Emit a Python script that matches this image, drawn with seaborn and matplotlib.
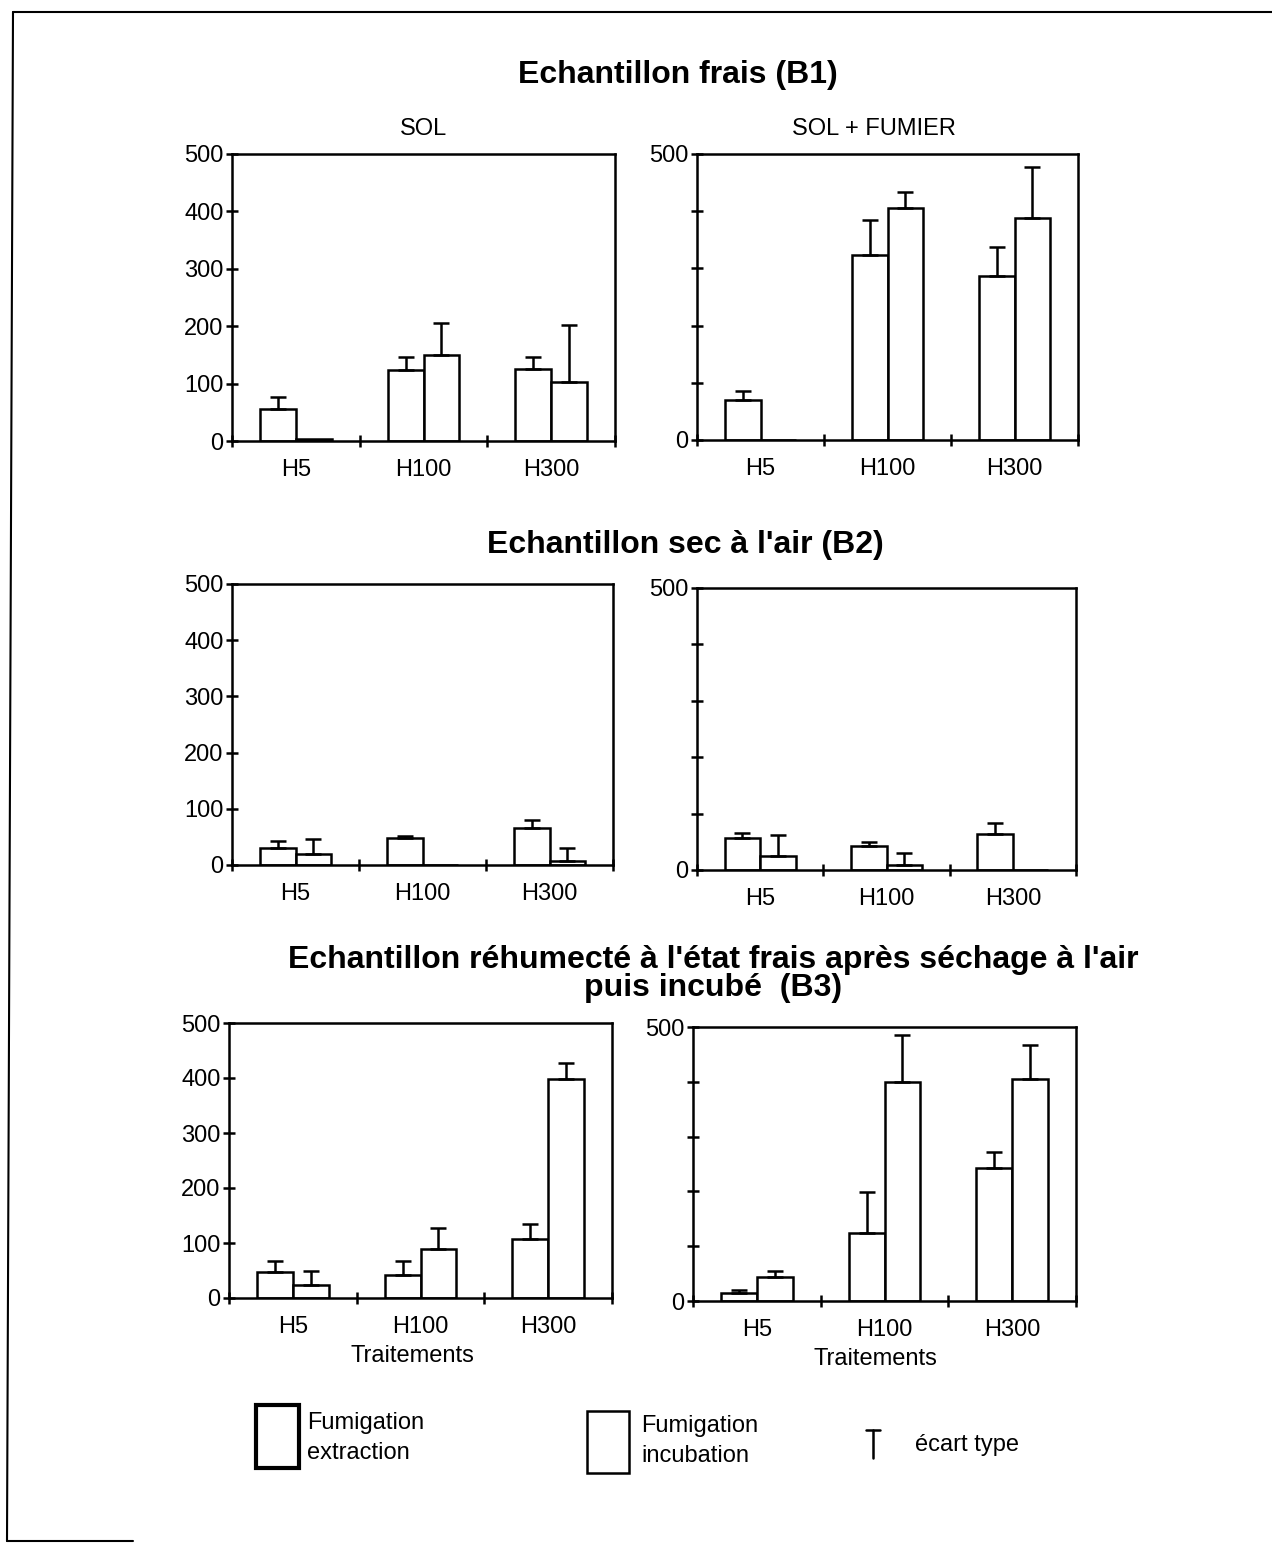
import matplotlib
matplotlib.use('Agg')

from matplotlib import pyplot as plt
from matplotlib.lines import Line2D
from matplotlib.patches import Rectangle

import seaborn as sns
import pandas as pd

traitements = ['H5', 'H100', 'H300']
methodes = ['Fumigation extraction', 'Fumigation incubation']

# B1 - echantillon frais
b1_sol_fe = [55, 123, 126]
b1_sol_fe_err = [22, 23, 20]
b1_sol_fi = [3, 149, 103]
b1_sol_fi_err = [0, 57, 99]
b1_fum_fe = [70, 323, 286]
b1_fum_fe_err = [15, 62, 51]
b1_fum_fi = [0, 406, 388]
b1_fum_fi_err = [0, 27, 90]

# B2 - echantillon sec a l'air
b2_sol_fe = [30, 48, 65]
b2_sol_fe_err = [13, 4, 15]
b2_sol_fi = [20, 0, 8]
b2_sol_fi_err = [26, 0, 23]
b2_fum_fe = [56, 42, 64]
b2_fum_fe_err = [10, 8, 19]
b2_fum_fi = [24, 8, 0]
b2_fum_fi_err = [38, 23, 0]

# B3 - rehumecte puis incube
b3_sol_fe = [47, 41, 107]
b3_sol_fe_err = [20, 26, 27]
b3_sol_fi = [23, 89, 398]
b3_sol_fi_err = [26, 39, 30]
b3_fum_fe = [15, 124, 243]
b3_fum_fe_err = [5, 75, 28]
b3_fum_fi = [44, 399, 406]
b3_fum_fi_err = [11, 86, 62]

W, H = 1272, 1543
FS = 17

sns.set_theme(style='ticks')
plt.rcParams['font.family'] = ['Liberation Sans', 'DejaVu Sans']
plt.rcParams['text.color'] = 'black'
plt.rcParams['axes.labelcolor'] = 'black'
plt.rcParams['xtick.color'] = 'black'
plt.rcParams['ytick.color'] = 'black'


def panel(ax, fe, fi, fe_err, fi_err, right=False, xlabel=''):
    df = pd.DataFrame({
        'Traitement': traitements * 2,
        'Methode': [methodes[0]] * 3 + [methodes[1]] * 3,
        'valeur': fe + fi,
    })
    sns.barplot(data=df, x='Traitement', y='valeur', hue='Methode',
                order=traitements, hue_order=methodes,
                palette=['white', 'white'], saturation=1,
                edgecolor='black', linewidth=1.8, width=0.56, gap=0,
                errorbar=None, legend=False, ax=ax)

    # one-sided standard deviation, up only
    errs = [fe_err, fi_err]
    for bar in ax.patches:
        xc = bar.get_x() + bar.get_width() / 2
        i = int(round(xc))
        m = 0 if xc < i else 1
        e = errs[m][i]
        if e > 0:
            ax.errorbar(xc, bar.get_height(), yerr=[[0], [e]], fmt='none',
                        ecolor='black', elinewidth=1.8, capsize=6, capthick=1.8)

    ax.set_xlim(-0.5, 2.5)
    ax.set_ylim(0, 500)
    ax.set_xticks([0, 1, 2])
    ax.set_xticklabels(traitements)
    ax.set_xticks([-0.5, 0.5, 1.5, 2.5], minor=True)
    ax.tick_params(axis='x', which='major', length=0, pad=13, labelsize=FS)
    ax.tick_params(axis='x', which='minor', length=8, width=1.8, direction='inout')
    ax.set_yticks(range(0, 501, 100))
    if right:
        ax.set_yticklabels(['0', '', '', '', '', '500'])
    ax.tick_params(axis='y', length=8, width=1.8, direction='inout', pad=2, labelsize=FS)
    for s in ax.spines.values():
        s.set_visible(True)
        s.set_linewidth(1.8)
        s.set_color('black')
    ax.set_ylabel('')
    ax.set_xlabel(xlabel, fontsize=FS, labelpad=4)


fig = plt.figure(figsize=(W / 100, H / 100), dpi=100)
fig.patch.set_facecolor('white')


def axes_px(x0, y0, x1, y1):
    return fig.add_axes([x0 / W, 1 - y1 / H, (x1 - x0) / W, (y1 - y0) / H])


ax1 = axes_px(232, 154, 615, 441)
ax2 = axes_px(697, 154, 1078, 440)
ax3 = axes_px(232, 584, 613, 865)
ax4 = axes_px(697, 588, 1076, 870)
ax5 = axes_px(229, 1023, 612, 1298)
ax6 = axes_px(693, 1027, 1076, 1301)

panel(ax1, b1_sol_fe, b1_sol_fi, b1_sol_fe_err, b1_sol_fi_err)
panel(ax2, b1_fum_fe, b1_fum_fi, b1_fum_fe_err, b1_fum_fi_err, right=True)
panel(ax3, b2_sol_fe, b2_sol_fi, b2_sol_fe_err, b2_sol_fi_err)
panel(ax4, b2_fum_fe, b2_fum_fi, b2_fum_fe_err, b2_fum_fi_err, right=True)
panel(ax5, b3_sol_fe, b3_sol_fi, b3_sol_fe_err, b3_sol_fi_err, xlabel='Traitements')
panel(ax6, b3_fum_fe, b3_fum_fi, b3_fum_fe_err, b3_fum_fi_err, right=True, xlabel='Traitements')

ax5.xaxis.set_label_coords((412 - 229) / 383, -0.17)
ax6.xaxis.set_label_coords((875 - 693) / 383, -0.17)

ax1.set_title('SOL', fontsize=FS, pad=14)
ax2.set_title('SOL + FUMIER', fontsize=FS, pad=14, x=(874 - 697) / 381)

TS = 23
fig.text(678 / W, 1 - 75 / H, 'Echantillon frais (B1)', ha='center', va='center',
         fontsize=TS, weight='bold')
fig.text(685 / W, 1 - 545 / H, "Echantillon sec à l'air (B2)", ha='center', va='center',
         fontsize=TS, weight='bold')
fig.text(713 / W, 1 - 974 / H,
         "Echantillon réhumecté à l'état frais après séchage à l'air\npuis incubé  (B3)",
         ha='center', va='center', fontsize=TS, weight='bold', linespacing=0.92)

# legend drawn by hand, as in the original
fig.add_artist(Rectangle((256 / W, 1 - 1468 / H), 43 / W, 63 / H, transform=fig.transFigure,
                         facecolor='white', edgecolor='black', linewidth=3))
fig.add_artist(Rectangle((587 / W, 1 - 1473 / H), 42 / W, 62 / H, transform=fig.transFigure,
                         facecolor='white', edgecolor='black', linewidth=1.8))
fig.text(307 / W, 1 - 1438 / H, 'Fumigation\nextraction', ha='left', va='center',
         fontsize=FS, linespacing=1.45)
fig.text(641 / W, 1 - 1441 / H, 'Fumigation\nincubation', ha='left', va='center',
         fontsize=FS, linespacing=1.45)
fig.add_artist(Line2D([873 / W, 873 / W], [1 - 1430 / H, 1 - 1458 / H],
                      transform=fig.transFigure, color='black', linewidth=1.8))
fig.add_artist(Line2D([866 / W, 880 / W], [1 - 1430 / H, 1 - 1430 / H],
                      transform=fig.transFigure, color='black', linewidth=1.8))
fig.text(915 / W, 1 - 1445 / H, 'écart type', ha='left', va='center', fontsize=FS)

# page frame
fig.add_artist(Line2D([13 / W, 1], [1 - 12 / H, 1 - 12 / H], transform=fig.transFigure,
                      color='black', linewidth=1.5))
fig.add_artist(Line2D([13 / W, 7 / W], [1 - 12 / H, 1 - 1541 / H], transform=fig.transFigure,
                      color='black', linewidth=1.5))
fig.add_artist(Line2D([7 / W, 133 / W], [1 - 1541 / H, 1 - 1541 / H], transform=fig.transFigure,
                      color='black', linewidth=1.5))

plt.savefig('out.png', dpi=100, facecolor='white')
plt.close()
